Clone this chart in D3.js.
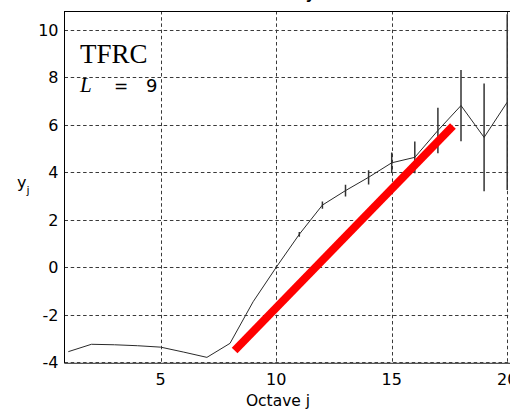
<!DOCTYPE html>
<html>
<head>
<meta charset="utf-8">
<script src="https://d3js.org/d3.v7.min.js"></script>
<style>
  body { margin: 0; background: #fff; }
  svg { display: block; }
</style>
</head>
<body>
<div id="chart"></div>
<script>
// octave index and log-scale estimates
const octaves = [1, 2, 3, 4, 5, 6, 7, 8, 9, 10, 11, 12, 13, 14, 15, 16, 17, 18, 19, 20];
const yj = [-3.55, -3.24, -3.26, -3.30, -3.36, -3.57, -3.79, -3.20, -1.45, 0.0,
            1.39, 2.62, 3.23, 3.79, 4.40, 4.63, 5.76, 6.81, 5.47, 6.95];
const yjErr = [0, 0, 0, 0, 0, 0, 0, 0, 0, 0.04,
               0.1, 0.15, 0.25, 0.3, 0.43, 0.67, 0.96, 1.5, 2.27, 3.7];
// regression line end points
const fitJ = [8.2, 17.65];
const fitY = [-3.5, 5.95];
const xTicks = [5, 10, 15, 20];
const yTicks = [-4, -2, 0, 2, 4, 6, 8, 10];

const width = 510, height = 411;
const pLeft = 64.5, pRight = 530.3, pTop = 11, pBottom = 363.3;

const svg = d3.select("#chart")
    .append("svg")
    .attr("width", width)
    .attr("height", height);

const x = d3.scaleLinear().domain([0.835, 21]).range([pLeft, pRight]);
const y = d3.scaleLinear().domain([-4.04, 10.79]).range([pBottom, pTop]);

svg.append("clipPath").attr("id", "plotclip")
    .append("rect")
    .attr("x", pLeft).attr("y", pTop)
    .attr("width", pRight - pLeft).attr("height", pBottom - pTop);

// grid
const grid = svg.append("g").attr("stroke", "#3a3a3a").attr("stroke-width", 1)
    .attr("stroke-dasharray", "3.5,2.7");
grid.selectAll(".gx").data(xTicks).enter().append("line")
    .attr("x1", d => Math.round(x(d)) + 0.5).attr("x2", d => Math.round(x(d)) + 0.5)
    .attr("y1", pTop).attr("y2", pBottom);
grid.selectAll(".gy").data(yTicks).enter().append("line")
    .attr("x1", pLeft).attr("x2", pRight)
    .attr("y1", d => Math.round(y(d)) + 0.5).attr("y2", d => Math.round(y(d)) + 0.5);

// axes box
svg.append("line").attr("x1", pLeft).attr("x2", pRight).attr("y1", pTop + 0.5).attr("y2", pTop + 0.5)
    .attr("stroke", "#000");
svg.append("line").attr("x1", pLeft).attr("x2", pLeft).attr("y1", pTop).attr("y2", pBottom)
    .attr("stroke", "#000");
svg.append("line").attr("x1", pLeft).attr("x2", pRight).attr("y1", pBottom).attr("y2", pBottom)
    .attr("stroke", "#555").attr("stroke-width", 1.2);

const plot = svg.append("g").attr("clip-path", "url(#plotclip)");

// error bars
plot.selectAll(".err").data(octaves.filter((d, i) => yjErr[i] > 0)).enter().append("line")
    .attr("x1", d => x(d)).attr("x2", d => x(d))
    .attr("y1", d => y(yj[d - 1] - yjErr[d - 1]))
    .attr("y2", d => y(yj[d - 1] + yjErr[d - 1]))
    .attr("stroke", "#333").attr("stroke-width", 1.5);

// y_j curve
const line = d3.line().x(d => x(d)).y(d => y(yj[d - 1]));
plot.append("path")
    .attr("d", line(octaves))
    .attr("fill", "none")
    .attr("stroke", "#2a2a2a")
    .attr("stroke-width", 1);

// fitted red line
plot.append("line")
    .attr("x1", x(fitJ[0])).attr("y1", y(fitY[0]))
    .attr("x2", x(fitJ[1])).attr("y2", y(fitY[1]))
    .attr("stroke", "#ff0000").attr("stroke-width", 8);

// tick labels
const font = "DejaVu Sans, Arial, sans-serif";
svg.selectAll(".xt").data(xTicks).enter().append("text")
    .attr("x", d => x(d)).attr("y", 384.5)
    .attr("text-anchor", "middle")
    .attr("font-family", font).attr("font-size", 16)
    .text(d => d);
svg.selectAll(".yt").data(yTicks).enter().append("text")
    .attr("x", 58.5).attr("y", d => y(d) + 6)
    .attr("text-anchor", "end")
    .attr("font-family", font).attr("font-size", 16)
    .text(d => d);

// axis labels
svg.append("text")
    .attr("x", 278).attr("y", 406)
    .attr("text-anchor", "middle")
    .attr("font-family", font).attr("font-size", 15.5)
    .text("Octave j");

const yl = svg.append("text")
    .attr("x", 17).attr("y", 188)
    .attr("font-family", font).attr("font-size", 16);
yl.append("tspan").text("y");
yl.append("tspan").attr("dy", 6).attr("font-size", 11).text("j");

// title (cut off at the top of the picture)
svg.append("text")
    .attr("x", 310).attr("y", -1)
    .attr("text-anchor", "middle")
    .attr("font-family", font).attr("font-size", 14).attr("font-weight", "bold")
    .text("y");

// annotation
svg.append("text")
    .attr("x", 80).attr("y", 62.5)
    .attr("font-family", "Liberation Serif, Times New Roman, serif").attr("font-size", 27)
    .text("TFRC");
svg.append("text")
    .attr("x", 80).attr("y", 91.5)
    .attr("font-family", "Liberation Serif, Times New Roman, serif")
    .attr("font-style", "italic").attr("font-size", 21)
    .text("L");
svg.append("text")
    .attr("x", 114).attr("y", 91.5)
    .attr("font-family", font).attr("font-size", 17)
    .text("=");
svg.append("text")
    .attr("x", 146).attr("y", 91.5)
    .attr("font-family", font).attr("font-size", 18)
    .text("9");
</script>
</body>
</html>
